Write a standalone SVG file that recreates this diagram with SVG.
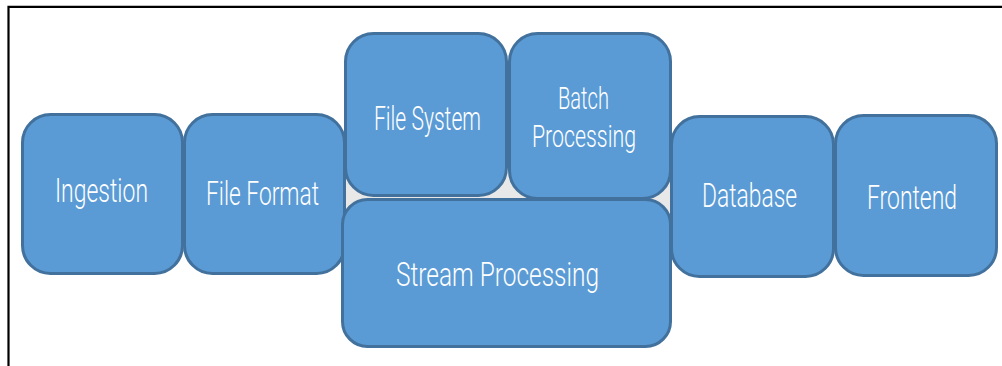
<svg xmlns="http://www.w3.org/2000/svg" width="1002" height="366" viewBox="0 0 1002 366">
<style>
.box{fill:#5b9bd5;stroke:#41719c;stroke-width:3}
.lbl{fill:#ffffff;font-family:Roboto,"Liberation Sans Narrow","DejaVu Sans Condensed",sans-serif;font-weight:300;font-size:34px;text-anchor:start}
.sm{font-size:32px}
.frame{stroke:#000000;stroke-width:2.2;fill:none}
</style>
<rect width="1002" height="366" fill="#ffffff"/>
<path class="frame" d="M8.5,366 V6.8 H1002"/>
<rect x="342" y="172" width="328" height="44" fill="#e8e8e8"/>
<g id="connectors"></g>
<g id="ingestion">
<rect class="box" x="22.5" y="114.5" width="160" height="159" rx="28"/>
<text class="lbl" x="55" y="202" textLength="93" lengthAdjust="spacingAndGlyphs">Ingestion</text>
</g>
<g id="file-format">
<rect class="box" x="184.5" y="114.5" width="160" height="159" rx="28"/>
<text class="lbl" x="206" y="205" textLength="113" lengthAdjust="spacingAndGlyphs">File Format</text>
</g>
<g id="file-system">
<rect class="box" x="345.5" y="33.5" width="161" height="162" rx="28"/>
<text class="lbl" x="374" y="130" textLength="107" lengthAdjust="spacingAndGlyphs">File System</text>
</g>
<g id="batch-processing">
<rect class="box" x="509.5" y="33.5" width="161" height="165" rx="28"/>
<text class="lbl sm" x="558" y="109" textLength="51" lengthAdjust="spacingAndGlyphs">Batch</text>
<text class="lbl sm" x="532" y="147" textLength="104" lengthAdjust="spacingAndGlyphs">Processing</text>
</g>
<g id="stream-processing">
<rect class="box" x="342.5" y="199.5" width="328" height="147" rx="25"/>
<text class="lbl" x="396" y="286" textLength="203" lengthAdjust="spacingAndGlyphs">Stream Processing</text>
</g>
<g id="database">
<rect class="box" x="671.5" y="116.5" width="162" height="160" rx="28"/>
<text class="lbl" x="702" y="207" textLength="95" lengthAdjust="spacingAndGlyphs">Database</text>
</g>
<g id="frontend">
<rect class="box" x="835.5" y="115.5" width="161" height="160" rx="28"/>
<text class="lbl" x="867" y="209" textLength="90" lengthAdjust="spacingAndGlyphs">Frontend</text>
</g>
</svg>
